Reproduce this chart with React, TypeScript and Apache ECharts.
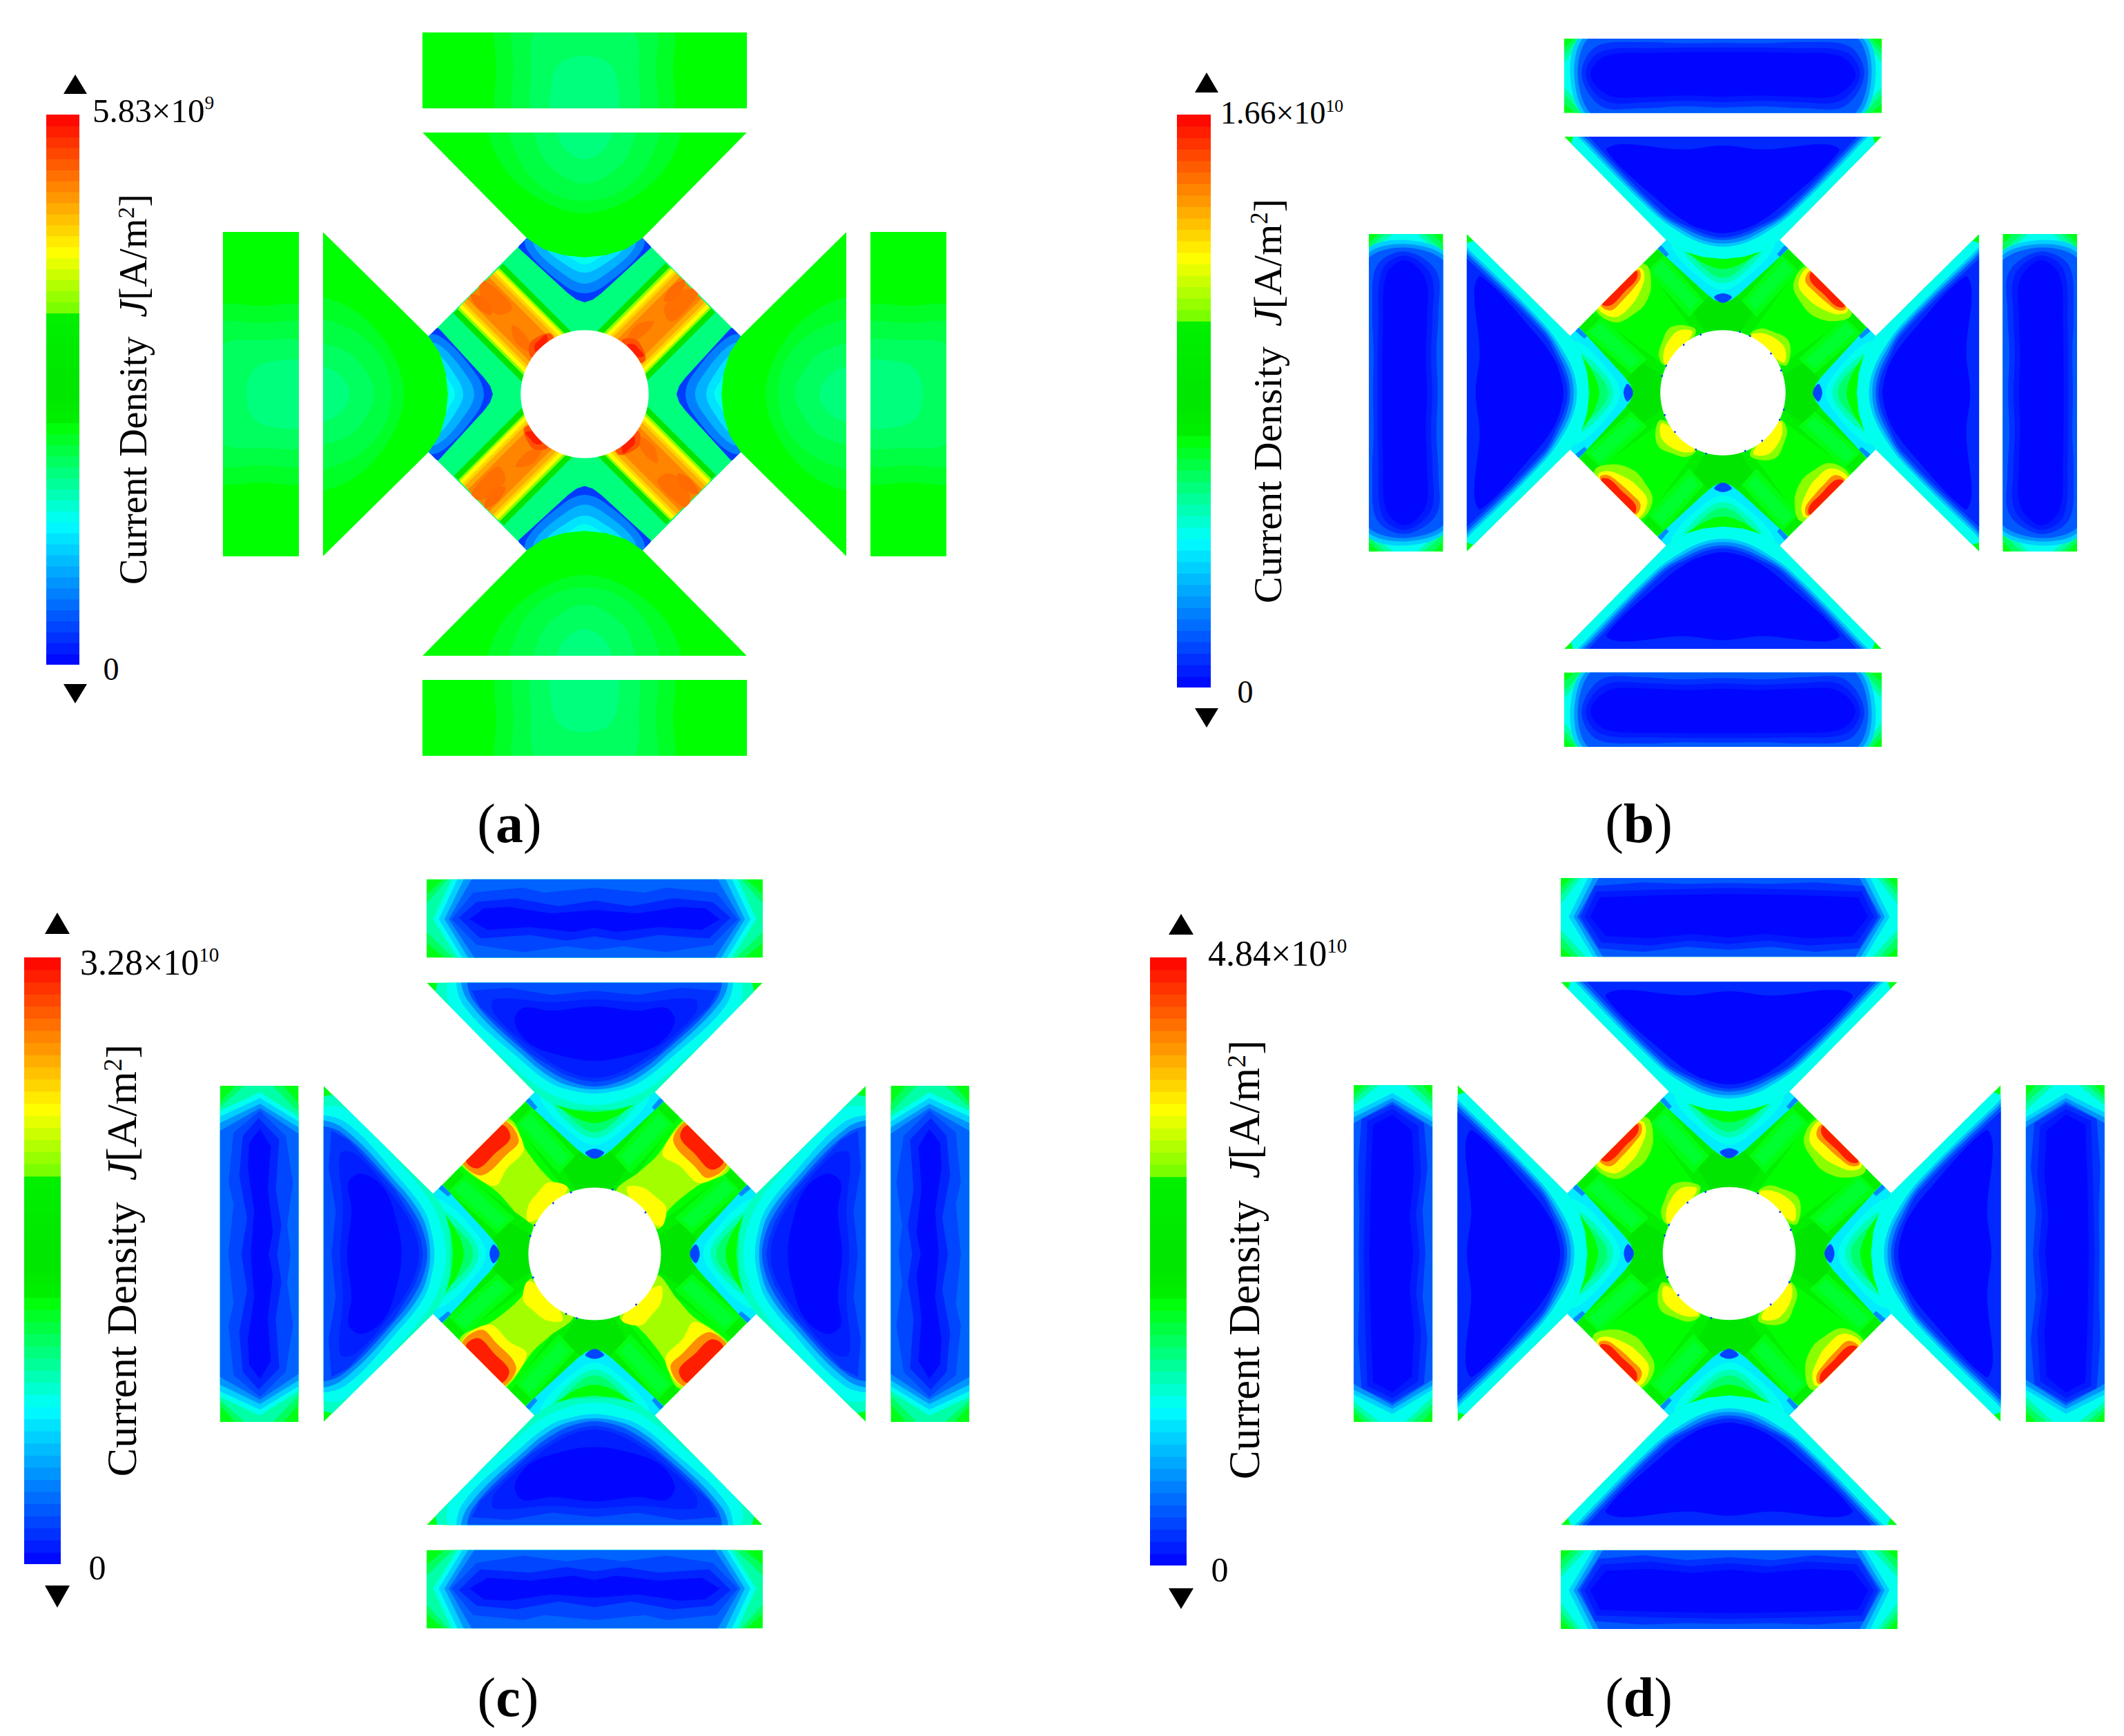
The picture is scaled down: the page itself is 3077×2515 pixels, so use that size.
import React, { useEffect, useRef } from "react";
import * as echarts from "echarts";

type Layer = { v: number; pts: number[][]; curved: boolean };

const pairs = (f: number[]) => {
  const out: number[][] = [];
  for (let i = 0; i < f.length; i += 2) out.push([f[i], f[i + 1]]);
  return out;
};
const mirror = (f: number[]) => {
  const half = pairs(f);
  const back = half.filter((p) => p[0] > 0).reverse().map((p) => [-p[0], p[1]]);
  return [...half, ...back];
};
// mirrored contour (curved), mirrored outline (straight), free contour (curved), free outline (straight)
const ring = (v: number, f: number[]): Layer => ({ v, pts: mirror(f), curved: true });
const sring = (v: number, f: number[]): Layer => ({ v, pts: mirror(f), curved: false });
const blob = (v: number, f: number[]): Layer => ({ v, pts: pairs(f), curved: true });
const poly = (v: number, f: number[]): Layer => ({ v, pts: pairs(f), curved: false });

// ---- data: colour bar ----
const PANEL_NAMES = ["a", "b", "c", "d"];
const MAX_VALUES = [5.83e9, 1.66e10, 3.28e10, 4.84e10];
const MAX_MANTISSA = ["5.83", "1.66", "3.28", "4.84"];
const MAX_EXPONENT = ["9", "10", "10", "10"];
const BAR_LEVELS = Array.from({ length: 50 }, (_, i) => i);
const PALETTE: [number, number, number, number][] = [
  [0, 0, 0, 255],
  [0.258, 0, 255, 255],
  [0.437, 0, 255, 0],
  [0.445, 0, 240, 0],
  [0.5, 0, 230, 0],
  [0.635, 0, 240, 0],
  [0.64, 110, 255, 0],
  [0.749, 255, 255, 0],
  [1, 255, 0, 0],
];

// ---- data: pieces of the rotor, in one arm's frame (rotated to the four arms) ----
const BAR_OUTLINE = pairs([-235, -524, 235, -524, 235, -414, -235, -414]);
const TRI_OUTLINE = mirror([0, -198, 30, -201, 60, -210, 84, -226, 235, -379]);
const DIA_OUTLINE = pairs([-84, -226, 84, -226, 226, -84, 226, 84, 84, 226, -84, 226, -226, 84, -226, -84]);
const HOLE_RADIUS = 92.7;
const DIA_BASE = [0.35, 0.437, 0.437, 0.437];
const WEDGE = [0, -133, 12, -137, 24, -146, 96, -212, 90, -240, 0, -240];
const HOLE_DOTS = [25, -90, 71, -58, 86, -33, 40, -84];

// ---- panel (a) ----
const A_BAR: Layer[] = [
  poly(0.437, BAR_OUTLINE.flat()),
  ring(0.41, [0, -545, 122, -545, 128, -470, 122, -400, 0, -400]),
  ring(0.39, [0, -545, 98, -545, 103, -470, 98, -400, 0, -400]),
  ring(0.37, [0, -532, 70, -525, 78, -465, 72, -400, 0, -400]),
  ring(0.35, [0, -490, 35, -480, 48, -450, 45, -400, 0, -400]),
];
const A_TRI: Layer[] = [
  poly(0.437, TRI_OUTLINE.flat()),
  ring(0.41, [0, -400, 135, -400, 125, -340, 70, -285, 0, -262]),
  ring(0.39, [0, -400, 105, -400, 95, -340, 55, -295, 0, -280]),
  ring(0.37, [0, -400, 70, -400, 62, -345, 30, -315, 0, -305]),
  ring(0.35, [0, -400, 40, -400, 32, -360, 0, -340]),
];
const A_DIA: Layer[] = [
  poly(0.5, [-118, -189, -19, -90, -91, -18, -190, -117]),
  poly(0.66, [-124, -183, -25, -84, -85, -24, -184, -123]),
  poly(0.75, [-126, -181, -27, -82, -83, -27, -182, -126]),
  poly(0.79, [-130, -177, -31, -78, -79, -31, -178, -130]),
  poly(0.83, [-133, -174, -34, -75, -76, -34, -175, -133]),
  poly(0.87, [-138, -169, -39, -70, -71, -39, -170, -138]),
  blob(0.89, [-150, -165, -125, -150, -105, -125, -125, -115, -150, -140]),
  blob(0.895, [-165, -145, -140, -135, -135, -115, -155, -125]),
  blob(0.89, [-105, -100, -85, -85, -75, -60, -100, -75]),
  blob(0.92, [-80, -72, -70, -82, -50, -88, -44, -74, -60, -60, -78, -54]),
  blob(0.97, [-72, -72, -66, -78, -56, -86, -54, -76, -64, -66, -72, -62]),
  sring(0.06, WEDGE),
  ring(0.13, [0, -146, 30, -158, 84, -210, 80, -240, 0, -240]),
  ring(0.18, [0, -160, 28, -172, 72, -212, 70, -240, 0, -240]),
  ring(0.23, [0, -176, 25, -186, 60, -215, 60, -240, 0, -240]),
  ring(0.27, [0, -188, 20, -197, 50, -218, 50, -240, 0, -240]),
];

// ---- panel (b): rounded blue interior in the bars ----
const B_BAR: Layer[] = [
  poly(0.42, BAR_OUTLINE.flat()),
  sring(0.37, [0, -524, 221, -524, 235, -510, 235, -428, 219, -414, 0, -414]),
  sring(0.32, [0, -524, 214, -524, 235, -500, 235, -442, 210, -414, 0, -414]),
  sring(0.27, [0, -524, 207, -524, 235, -488, 235, -452, 200, -414, 0, -414]),
  ring(0.21, [0, -530, 205, -530, 226, -470, 198, -406, 0, -406]),
  ring(0.15, [0, -530, 198, -530, 220, -470, 192, -406, 0, -406]),
  ring(0.09, [0, -530, 190, -530, 215, -470, 184, -406, 0, -406]),
  ring(0.05, [0, -518, 60, -517, 120, -519, 188, -512, 209, -470, 180, -424, 120, -421, 60, -424, 0, -422]),
  ring(0.025, [0, -511, 100, -510, 182, -504, 203, -470, 174, -432, 110, -430, 55, -432, 0, -430]),
  ring(0.006, [0, -504, 100, -503, 174, -498, 196, -470, 168, -440, 110, -438, 50, -440, 0, -438]),
];

// ---- panel (d), whose triangles and centre (b) shares ----
const LATE_BAR: Layer[] = [
  poly(0.42, BAR_OUTLINE.flat()),
  sring(0.37, [0, -524, 221, -524, 235, -510, 235, -428, 219, -414, 0, -414]),
  sring(0.32, [0, -524, 214, -524, 235, -500, 235, -442, 210, -414, 0, -414]),
  sring(0.27, [0, -524, 207, -524, 235, -488, 235, -452, 200, -414, 0, -414]),
  sring(0.21, [0, -524, 197, -524, 224, -470, 190, -414, 0, -414]),
  sring(0.15, [0, -524, 190, -524, 217, -470, 184, -414, 0, -414]),
  sring(0.09, [0, -524, 182, -524, 212, -470, 176, -414, 0, -414]),
  sring(0.05, [0, -517, 60, -516, 120, -518, 188, -513, 208, -470, 182, -426, 120, -421, 60, -428, 0, -424]),
  sring(0.025, [0, -510, 100, -508, 185, -505, 202, -470, 178, -434, 110, -430, 55, -437, 0, -432]),
  sring(0.006, [0, -502, 100, -500, 180, -497, 194, -470, 172, -443, 110, -440, 50, -446, 0, -441]),
];
const LATE_TRI: Layer[] = [
  poly(0.42, TRI_OUTLINE.flat()),
  sring(0.27, [0, -190, 60, -202, 90, -222, 226, -366, 216, -395, 0, -395]),
  ring(0.2, [0, -216, 30, -221, 60, -235, 102, -265, 206, -370, 225, -395, 0, -395]),
  ring(0.14, [0, -221, 28, -225, 56, -238, 97, -265, 201, -370, 220, -395, 0, -395]),
  ring(0.08, [0, -226, 26, -230, 52, -241, 92, -265, 196, -370, 215, -395, 0, -395]),
  ring(0.04, [0, -230, 24, -234, 48, -244, 86, -265, 190, -370, 205, -395, 0, -395]),
  ring(0.006, [0, -236, 24, -240, 50, -250, 86, -276, 172, -358, 150, -368, 60, -360, 0, -366]),
];
const CORE_DIA: Layer[] = [
  sring(0.445, [0, -133, 24, -146, 96, -212, 118, -192, 40, -86, 0, -88]),
  sring(0.5, [0, -133, 20, -143, 45, -120, 25, -88, 0, -88]),
  poly(0.425, [88, -204, 112, -180, 50, -112, 28, -136]),
  poly(0.425, [-88, -204, -112, -180, -50, -112, -28, -136]),
  poly(0.405, [90, -196, 104, -182, 48, -122, 36, -136]),
  poly(0.405, [-90, -196, -104, -182, -48, -122, -36, -136]),
  sring(0.24, WEDGE),
  blob(0.07, [-13, -142, -8, -136, 0, -133, 8, -136, 13, -142, 0, -147]),
  poly(0.14, [-97, -214, -84, -201, -80, -205, -91, -218]),
  poly(0.14, [97, -214, 84, -201, 80, -205, 91, -218]),
  ring(0.27, [0, -152, 28, -165, 74, -212, 70, -240, 0, -240]),
  ring(0.31, [0, -162, 24, -172, 60, -212, 58, -240, 0, -240]),
  ring(0.36, [0, -170, 20, -178, 50, -212, 48, -240, 0, -240]),
  ring(0.437, [0, -183, 25, -190, 50, -205, 72, -222, 72, -240, 0, -240]),
];
const LATE_PATCHES: Layer[] = [
  blob(0.66, [-160, -180, -115, -190, -106, -160, -115, -132, -131, -117, -158, -104, -186, -119, -190, -150]),
  blob(0.75, [-160, -175, -122, -185, -116, -170, -125, -145, -135, -130, -158, -112, -183, -122, -185, -145]),
  blob(0.86, [-160, -172, -125, -182, -122, -170, -132, -155, -150, -135, -165, -122, -180, -128, -182, -145]),
  blob(0.97, [-160, -170, -128, -180, -128, -168, -145, -150, -165, -130, -178, -130, -180, -145]),
  blob(0.66, [-40, -92, -60, -100, -80, -95, -90, -75, -95, -55, -85, -40, -60, -60]),
  blob(0.75, [-45, -90, -65, -92, -80, -78, -88, -58, -85, -42, -65, -60]),
];

// ---- panel (c) ----
const C_BAR: Layer[] = [
  poly(0.42, BAR_OUTLINE.flat()),
  sring(0.37, [0, -524, 212, -524, 235, -503, 235, -435, 210, -414, 0, -414]),
  sring(0.32, [0, -524, 205, -524, 235, -490, 235, -450, 198, -414, 0, -414]),
  sring(0.27, [0, -524, 200, -524, 226, -468, 192, -414, 0, -414]),
  sring(0.21, [0, -524, 192, -524, 218, -468, 185, -414, 0, -414]),
  sring(0.15, [0, -524, 183, -524, 210, -468, 177, -414, 0, -414]),
  sring(0.1, [0, -524, 172, -524, 204, -468, 168, -414, 0, -414]),
  sring(0.07, [0, -512, 70, -505, 100, -512, 170, -505, 200, -468, 165, -432, 100, -422, 40, -430, 0, -425]),
  sring(0.035, [0, -494, 50, -486, 110, -497, 165, -492, 190, -470, 160, -441, 90, -446, 40, -438, 0, -444]),
  sring(0.008, [0, -481, 60, -476, 120, -485, 155, -483, 175, -468, 150, -453, 90, -457, 30, -450, 0, -456]),
];
const C_TRI: Layer[] = [
  poly(0.42, TRI_OUTLINE.flat()),
  sring(0.34, [0, -190, 60, -202, 90, -222, 222, -352, 205, -395, 0, -395]),
  ring(0.3, [0, -202, 35, -204, 80, -218, 128, -255, 220, -350, 205, -395, 0, -395]),
  ring(0.27, [0, -208, 30, -212, 70, -228, 122, -268, 204, -350, 192, -395, 0, -395]),
  ring(0.21, [0, -224, 30, -228, 60, -238, 100, -268, 185, -350, 186, -395, 0, -395]),
  ring(0.14, [0, -230, 27, -233, 55, -243, 92, -270, 178, -355, 181, -395, 0, -395]),
  ring(0.08, [0, -234, 25, -238, 50, -248, 85, -272, 170, -355, 172, -395, 0, -395]),
  sring(0.05, [0, -240, 20, -243, 45, -252, 90, -280, 160, -345, 172, -368, 120, -372, 60, -362, 0, -368]),
  ring(0.03, [0, -246, 40, -256, 85, -285, 140, -335, 140, -356, 60, -352, 0, -356]),
  ring(0.006, [0, -270, 50, -278, 92, -295, 112, -325, 100, -344, 60, -340, 0, -346]),
];
const C_PATCHES: Layer[] = [
  blob(0.68, [-165, -178, -118, -188, -95, -144, -61, -103, -35, -88, -85, -30, -116, -64, -137, -87, -185, -122, -195, -150]),
  blob(0.75, [-165, -176, -122, -185, -99, -147, -123, -119, -140, -95, -183, -124, -190, -150]),
  blob(0.75, [-38, -92, -64, -100, -80, -85, -93, -67, -93, -45, -70, -55]),
  blob(0.86, [-160, -180, -124, -185, -106, -158, -122, -140, -157, -110, -183, -124, -190, -150]),
  blob(0.97, [-160, -175, -128, -180, -118, -162, -140, -140, -162, -120, -178, -126, -183, -150]),
];

const PANEL_BARS = [A_BAR, B_BAR, C_BAR, LATE_BAR];
const PANEL_TRIS = [A_TRI, LATE_TRI, C_TRI, LATE_TRI];
const PANEL_DIAS = [A_DIA, [...CORE_DIA, ...LATE_PATCHES], [...CORE_DIA, ...C_PATCHES], [...CORE_DIA, ...LATE_PATCHES]];

// ---- layout (page pixels) ----
const FIELD_BOX = [
  { cx: 847, cy: 571, s: 1 },
  { cx: 2496, cy: 569, s: 0.979 },
  { cx: 861.5, cy: 1816.5, s: 1.036 },
  { cx: 2505, cy: 1816, s: 1.038 },
];
const BAR_BOX = [
  { l: 67, r: 115, t: 166, b: 963, ax: 109, up: [108, 136], dn: [991, 1019], hw: 17 },
  { l: 1705, r: 1754, t: 166, b: 996, ax: 1748, up: [105, 134], dn: [1026, 1054], hw: 17 },
  { l: 35, r: 88, t: 1387, b: 2266, ax: 83, up: [1322, 1353], dn: [2297, 2329], hw: 18 },
  { l: 1666, r: 1719, t: 1387, b: 2268, ax: 1711, up: [1324, 1354], dn: [2301, 2331], hw: 18 },
];
const LABEL_BOX = [
  { maxX: 134, maxY: 160, maxF: 49, zeroX: 161, zeroY: 969, zeroF: 46, titleX: 193, titleY: 564, titleF: 56, capX: 738, capY: 1193 },
  { maxX: 1768, maxY: 163, maxF: 46, zeroX: 1804, zeroY: 1002, zeroF: 46, titleX: 1836, titleY: 581, titleF: 58, capX: 2374, capY: 1193 },
  { maxX: 116, maxY: 1394, maxF: 52, zeroX: 141, zeroY: 2271, zeroF: 50, titleX: 176, titleY: 1826, titleF: 62, capX: 736, capY: 2459 },
  { maxX: 1750, maxY: 1381, maxF: 52, zeroX: 1767, zeroY: 2274, zeroF: 50, titleX: 1803, titleY: 1825, titleF: 63, capX: 2374, capY: 2459 },
];
const FIELD_RANGE = 540;
const SERIF = "Liberation Serif";

function colorOf(v: number) {
  for (let i = 1; i < PALETTE.length; i++) {
    const a = PALETTE[i - 1];
    const b = PALETTE[i];
    if (v <= b[0]) {
      const t = (v - a[0]) / (b[0] - a[0]);
      const c = [1, 2, 3].map((k) => Math.round(a[k] + (b[k] - a[k]) * t));
      return `rgb(${c[0]},${c[1]},${c[2]})`;
    }
  }
  return "rgb(255,0,0)";
}

const rotate = (pts: number[][], r: number) =>
  pts.map((p) => {
    let [x, y] = p;
    for (let i = 0; i < r; i++) [x, y] = [-y, x];
    return [x, y];
  });

type Item =
  | { kind: "poly"; v: number; pts: number[][]; curved: boolean; clip: number[][] }
  | { kind: "circle"; v: number; c: number[]; r: number; white?: boolean };

function panelItems(p: number): Item[] {
  const items: Item[] = [];
  const add = (layers: Layer[], outline: number[][]) => {
    for (let r = 0; r < 4; r++) {
      const clip = rotate(outline, r);
      for (const l of layers) items.push({ kind: "poly", v: l.v, pts: rotate(l.pts, r), curved: l.curved, clip });
    }
  };
  add(PANEL_BARS[p], BAR_OUTLINE);
  items.push({ kind: "poly", v: DIA_BASE[p], pts: DIA_OUTLINE, curved: false, clip: DIA_OUTLINE });
  add(PANEL_DIAS[p], DIA_OUTLINE);
  add(PANEL_TRIS[p], TRI_OUTLINE);
  items.push({ kind: "circle", v: 0, c: [0, 0], r: HOLE_RADIUS, white: true });
  if (p > 0) {
    for (let r = 0; r < 4; r++) {
      for (const d of rotate(pairs(HOLE_DOTS), r)) items.push({ kind: "circle", v: 0.06, c: d, r: 1.4 });
    }
  }
  return items;
}

function buildOption() {
  const grid: any[] = [];
  const xAxis: any[] = [];
  const yAxis: any[] = [];
  const series: any[] = [];
  const graphic: any[] = [];
  const hiddenAxis = { type: "value", show: false, splitLine: { show: false } };

  PANEL_NAMES.forEach((name, p) => {
    const f = FIELD_BOX[p];
    grid.push({
      left: f.cx - FIELD_RANGE * f.s,
      top: f.cy - FIELD_RANGE * f.s,
      width: 2 * FIELD_RANGE * f.s,
      height: 2 * FIELD_RANGE * f.s,
    });
    xAxis.push({ ...hiddenAxis, gridIndex: grid.length - 1, min: -FIELD_RANGE, max: FIELD_RANGE });
    yAxis.push({ ...hiddenAxis, gridIndex: grid.length - 1, min: -FIELD_RANGE, max: FIELD_RANGE, inverse: true });
    const items = panelItems(p);
    series.push({
      type: "custom",
      name: `field ${name}`,
      coordinateSystem: "cartesian2d",
      xAxisIndex: grid.length - 1,
      yAxisIndex: grid.length - 1,
      clip: false,
      silent: true,
      data: items.map((_, i) => [0, 0, i]),
      renderItem: (params: any, api: any) => {
        const it = items[params.dataIndex];
        if (it.kind === "circle") {
          const c = api.coord(it.c);
          const r = api.coord([it.r, 0])[0] - api.coord([0, 0])[0];
          return {
            type: "circle",
            shape: { cx: c[0], cy: c[1], r },
            style: { fill: it.white ? "#ffffff" : colorOf(it.v) },
          };
        }
        return {
          type: "polygon",
          shape: { points: it.pts.map((q) => api.coord(q)), smooth: it.curved ? 0.35 : 0 },
          style: { fill: colorOf(it.v) },
          clipPath: { type: "polygon", shape: { points: it.clip.map((q) => api.coord(q)) } },
        };
      },
    });

    const b = BAR_BOX[p];
    grid.push({ left: b.l, top: b.t, width: b.r - b.l, height: b.b - b.t });
    xAxis.push({ ...hiddenAxis, gridIndex: grid.length - 1, min: 0, max: 1 });
    yAxis.push({ ...hiddenAxis, gridIndex: grid.length - 1, min: 0, max: MAX_VALUES[p] });
    const step = MAX_VALUES[p] / BAR_LEVELS.length;
    series.push({
      type: "custom",
      name: `scale ${name}`,
      coordinateSystem: "cartesian2d",
      xAxisIndex: grid.length - 1,
      yAxisIndex: grid.length - 1,
      clip: false,
      silent: true,
      data: BAR_LEVELS.map((i) => [0, i * step, i]),
      renderItem: (params: any, api: any) => {
        const i = BAR_LEVELS[params.dataIndex];
        const top = api.coord([1, (i + 1) * step]);
        const bot = api.coord([0, i * step]);
        return {
          type: "rect",
          shape: { x: bot[0], y: top[1], width: top[0] - bot[0], height: bot[1] - top[1] + (i > 0 ? 1 : 0) },
          style: { fill: colorOf((i + 0.5) / BAR_LEVELS.length) },
        };
      },
    });

    graphic.push(
      {
        type: "polygon",
        shape: { points: [[b.ax, b.up[0]], [b.ax + b.hw, b.up[1]], [b.ax - b.hw, b.up[1]]] },
        style: { fill: "#000" },
      },
      {
        type: "polygon",
        shape: { points: [[b.ax, b.dn[1]], [b.ax + b.hw, b.dn[0]], [b.ax - b.hw, b.dn[0]]] },
        style: { fill: "#000" },
      },
    );

    const t = LABEL_BOX[p];
    graphic.push(
      {
        type: "text",
        x: t.maxX,
        y: t.maxY,
        style: {
          text: `{n|${MAX_MANTISSA[p]}×10}{s|${MAX_EXPONENT[p]}}`,
          textAlign: "left",
          textVerticalAlign: "middle",
          rich: {
            n: { fontFamily: SERIF, fontSize: t.maxF, fill: "#000" },
            s: { fontFamily: SERIF, fontSize: t.maxF * 0.56, fill: "#000", verticalAlign: "top" },
          },
        },
      },
      {
        type: "text",
        x: t.zeroX,
        y: t.zeroY,
        style: { text: "0", textAlign: "center", textVerticalAlign: "middle", fontFamily: SERIF, fontSize: t.zeroF, fill: "#000" },
      },
      {
        type: "text",
        x: t.titleX,
        y: t.titleY,
        rotation: Math.PI / 2,
        style: {
          text: "{n|Current Density\u00a0\u00a0}{i|J}{n|[A/m}{s|2}{n|]}",
          textAlign: "center",
          textVerticalAlign: "middle",
          rich: {
            n: { fontFamily: SERIF, fontSize: t.titleF, fill: "#000" },
            i: { fontFamily: SERIF, fontStyle: "italic", fontSize: t.titleF, fill: "#000" },
            s: { fontFamily: SERIF, fontSize: t.titleF * 0.6, fill: "#000", verticalAlign: "top" },
          },
        },
      },
      {
        type: "text",
        x: t.capX,
        y: t.capY,
        style: {
          text: `{n|(}{b|${name}}{n|)}`,
          textAlign: "center",
          textVerticalAlign: "middle",
          rich: {
            n: { fontFamily: SERIF, fontSize: 80, fill: "#000" },
            b: { fontFamily: SERIF, fontWeight: "bold", fontSize: 80, fill: "#000" },
          },
        },
      },
    );
  });

  return { animation: false, backgroundColor: "#ffffff", grid, xAxis, yAxis, series, graphic };
}

export default function App() {
  const ref = useRef<HTMLDivElement>(null);
  useEffect(() => {
    document.body.style.margin = "0";
    const chart = echarts.init(ref.current!, undefined, { renderer: "svg" });
    chart.setOption(buildOption() as any);
    return () => chart.dispose();
  }, []);
  return <div ref={ref} style={{ position: "absolute", left: 0, top: 0, width: 3077, height: 2515 }} />;
}
